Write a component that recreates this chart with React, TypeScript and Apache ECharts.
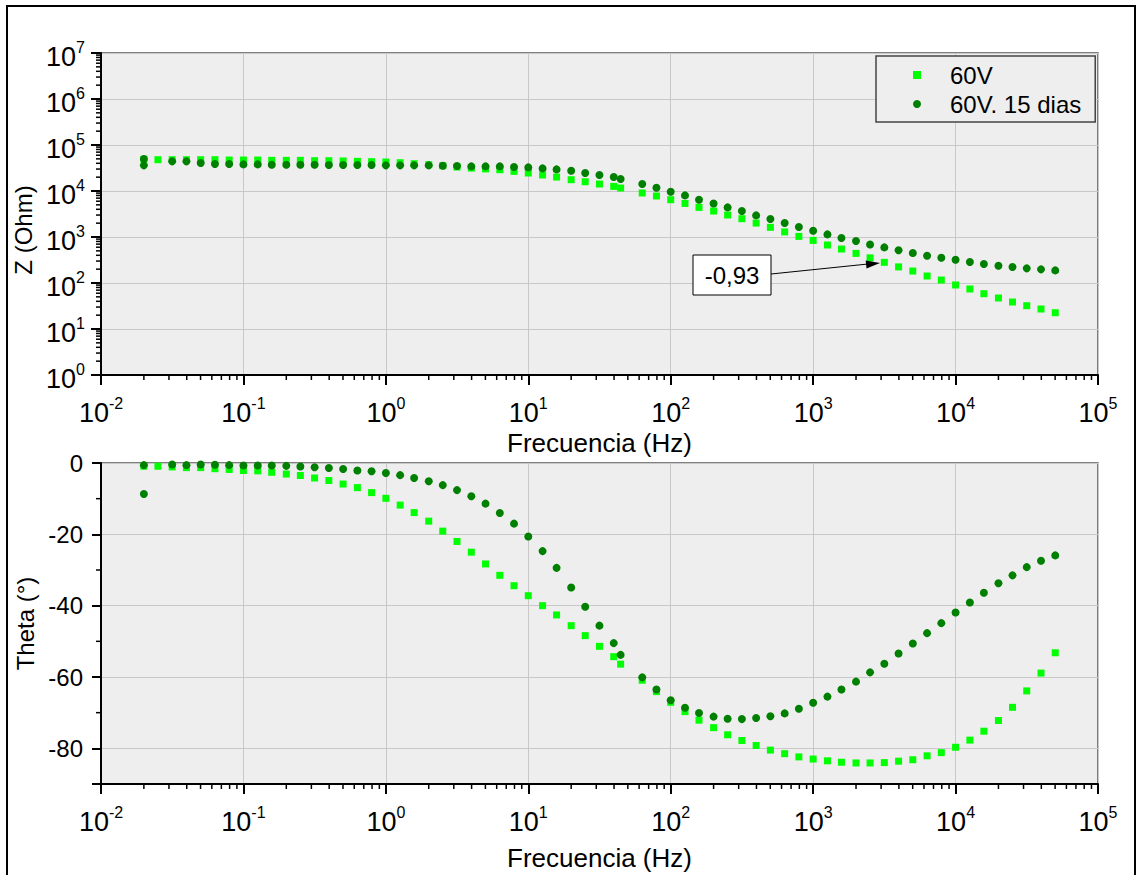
import React, { useEffect, useRef } from "react";
import * as echarts from "echarts";

const FONT = '"Liberation Sans", Arial, Helvetica, sans-serif';

// Frequencies (Hz)
const freq60V = [0.02, 0.0251, 0.0316, 0.0398, 0.0501, 0.0631, 0.0794, 0.1, 0.126, 0.158, 0.2, 0.251, 0.316, 0.398, 0.501, 0.631, 0.794, 1, 1.26, 1.58, 2, 2.51, 3.16, 3.98, 5.01, 6.31, 7.94, 10, 12.6, 15.8, 20, 25.1, 31.6, 39.8, 44.5, 63.1, 79.4, 100, 126, 158, 200, 251, 316, 398, 501, 631, 794, 1000, 1260, 1580, 2000, 2510, 3160, 3980, 5010, 6310, 7940, 10000, 12600, 15800, 20000, 25100, 31600, 39800, 50100];
const freq15d = [0.02, 0.02, 0.0316, 0.0398, 0.0501, 0.0631, 0.0794, 0.1, 0.126, 0.158, 0.2, 0.251, 0.316, 0.398, 0.501, 0.631, 0.794, 1, 1.26, 1.58, 2, 2.51, 3.16, 3.98, 5.01, 6.31, 7.94, 10, 12.6, 15.8, 20, 25.1, 31.6, 39.8, 44.5, 63.1, 79.4, 100, 126, 158, 200, 251, 316, 398, 501, 631, 794, 1000, 1260, 1580, 2000, 2510, 3160, 3980, 5010, 6310, 7940, 10000, 12600, 15800, 20000, 25100, 31600, 39800, 50100];

// |Z| (Ohm)
const z60V = [49000, 47900, 47900, 47900, 47900, 47900, 47100, 47100, 47100, 46400, 46400, 46400, 45600, 45600, 44900, 44100, 43400, 42700, 41200, 39200, 37300, 35500, 33200, 31500, 30200, 29000, 26700, 24600, 22300, 20100, 17600, 15900, 14200, 12600, 11600, 9060, 7780, 6470, 5370, 4400, 3670, 3010, 2500, 2010, 1620, 1290, 1030, 844, 670, 548, 440, 352, 281, 224, 182, 142, 116, 90.6, 74.1, 58.5, 47.2, 38.6, 32.1, 27.2, 22.6];
const z15d = [49600, 36100, 44100, 44100, 40600, 38600, 38600, 37900, 37900, 37300, 37300, 37300, 37300, 36700, 36700, 36700, 36700, 36100, 36100, 36100, 36100, 35500, 34900, 34300, 34300, 34300, 33300, 32600, 31000, 29500, 27600, 24600, 22300, 20100, 18200, 14200, 11800, 9660, 8020, 6470, 5370, 4400, 3670, 2950, 2460, 2010, 1650, 1370, 1140, 951, 818, 685, 594, 517, 449, 392, 355, 321, 286, 259, 238, 223, 208, 198, 188];

// Phase (degrees)
const theta60V = [-0.9, -0.9, -1.1, -1.3, -1.3, -1.6, -1.8, -2.1, -2.2, -2.6, -3.1, -3.5, -4.2, -4.9, -5.9, -6.9, -8.3, -9.9, -11.8, -13.9, -16.3, -19.1, -22.0, -25.0, -28.3, -31.5, -34.4, -37.2, -40.0, -42.6, -45.6, -48.4, -51.4, -54.3, -56.4, -60.9, -64.1, -67.1, -69.7, -72.1, -74.2, -76.2, -77.8, -79.2, -80.5, -81.5, -82.4, -83.0, -83.5, -83.9, -84.1, -84.1, -84.0, -83.6, -83.2, -82.1, -81.2, -79.7, -77.7, -75.2, -72.2, -68.5, -63.9, -58.9, -53.2];
const theta15d = [-0.6, -8.7, -0.4, -0.6, -0.4, -0.5, -0.6, -0.7, -0.7, -0.7, -0.8, -1.0, -1.2, -1.4, -1.7, -2.1, -2.3, -2.8, -3.4, -4.2, -5.1, -6.2, -7.6, -9.3, -11.4, -14.0, -17.0, -20.6, -24.7, -29.4, -34.9, -40.3, -45.6, -50.5, -53.8, -60.1, -63.5, -66.5, -68.6, -70.1, -71.1, -71.7, -71.8, -71.5, -71.0, -70.2, -68.9, -67.2, -65.5, -63.5, -61.3, -58.7, -56.3, -53.4, -50.6, -47.7, -44.9, -41.9, -39.1, -36.4, -33.7, -31.5, -29.2, -27.4, -25.9];

const seriesNames = ["60V", "60V. 15 dias"];
const annotationText = "-0,93";

// minor tick values
const decadesX = [0.01, 0.1, 1, 10, 100, 1000, 10000];
const decadesZ = [1, 10, 100, 1000, 10000, 100000, 1000000];
const mult = [2, 3, 4, 5, 6, 7, 8, 9];
const minorX = decadesX.flatMap((d) => mult.map((m) => m * d));
const minorZ = decadesZ.flatMap((d) => mult.map((m) => m * d));
const minorTheta = [-10, -30, -50, -70];

const pair = (xs: number[], ys: number[]) => xs.map((x, i) => [x, ys[i]]);

const rich = {
  b: { fontSize: 27, lineHeight: 36, fontFamily: FONT, color: "#000" },
  s: { fontSize: 16, lineHeight: 14, verticalAlign: "top", fontFamily: FONT, color: "#000" },
};
const powLabel = (v: number) => `{b|10}{s|${Math.round(Math.log10(v))}}`;

const axisLine = { show: true, onZero: false, lineStyle: { color: "#000", width: 2 } };
const axisTick = { show: true, inside: false, length: 10, lineStyle: { color: "#000", width: 2 } };
const splitLine = { show: true, lineStyle: { color: "#c8c8c8", width: 1 } };
const nameStyle = { fontSize: 26, fontFamily: FONT, color: "#000" };

function minorTicks(gridIdx: number, dir: "x" | "y", data: number[][], len: number) {
  return {
    type: "custom",
    xAxisIndex: gridIdx,
    yAxisIndex: gridIdx,
    silent: true,
    clip: false,
    z: 5,
    data,
    renderItem: (_p: any, api: any) => {
      const pt = api.coord([api.value(0), api.value(1)]);
      const shape =
        dir === "x"
          ? { x1: pt[0], y1: pt[1], x2: pt[0], y2: pt[1] + len }
          : { x1: pt[0] - len, y1: pt[1], x2: pt[0], y2: pt[1] };
      return { type: "line", shape, style: { stroke: "#000", lineWidth: 1.5 } };
    },
  };
}

export default function App() {
  const ref = useRef<HTMLDivElement>(null);
  useEffect(() => {
    if (!ref.current) return;
    const chart = echarts.init(ref.current, undefined, { renderer: "svg" });
    const xAxisBase = (gridIndex: number, nameGap: number) => ({
      type: "log",
      logBase: 10,
      gridIndex,
      min: 0.01,
      max: 100000,
      splitNumber: 7,
      axisLine,
      axisTick,
      minorTick: { show: false },
      axisLabel: { formatter: powLabel, rich, margin: 20 },
      splitLine,
      name: "Frecuencia (Hz)",
      nameLocation: "middle",
      nameGap,
      nameTextStyle: nameStyle,
    });
    const option: any = {
      animation: false,
      backgroundColor: "#fff",
      textStyle: { fontFamily: FONT },
      grid: [
        { left: 101, top: 53, width: 997, height: 322, show: true, backgroundColor: "#eeeeee", borderColor: "#555", borderWidth: 1.5 },
        { left: 101, top: 463, width: 997, height: 321, show: true, backgroundColor: "#eeeeee", borderColor: "#555", borderWidth: 1.5 },
      ],
      xAxis: [xAxisBase(0, 55), xAxisBase(1, 61)],
      yAxis: [
        {
          type: "log",
          logBase: 10,
          gridIndex: 0,
          min: 1,
          max: 10000000,
          splitNumber: 7,
          axisLine,
          axisTick,
          axisLabel: { formatter: powLabel, rich, margin: 16, padding: [8, 0, 0, 0] },
          splitLine,
          name: "Z (Ohm)",
          nameLocation: "middle",
          nameGap: 60,
          nameTextStyle: { ...nameStyle, fontSize: 24, padding: [0, 32, 0, 0] },
        },
        {
          type: "value",
          gridIndex: 1,
          min: -90,
          max: 0,
          splitNumber: 5,
          axisLine,
          axisTick: { ...axisTick, length: 9 },
          axisLabel: {
            formatter: (v: number) => (v === -90 ? "" : String(v)),
            fontSize: 24,
            fontFamily: FONT,
            color: "#000",
            margin: 18,
          },
          splitLine,
          name: "Theta (°)",
          nameLocation: "middle",
          nameGap: 52,
          nameTextStyle: { ...nameStyle, fontSize: 24 },
        },
      ],
      legend: {
        orient: "vertical",
        left: 876,
        top: 56,
        itemWidth: 8,
        itemHeight: 8,
        itemGap: 5,
        padding: [7, 14, 6, 37],
        backgroundColor: "#eeeeee",
        borderColor: "#444",
        borderWidth: 1.5,
        borderRadius: 0,
        textStyle: { fontSize: 24, fontFamily: FONT, color: "#000", padding: [0, 0, 0, 24] },
        data: [
          { name: seriesNames[0], icon: "rect", itemStyle: { color: "#00ff00", opacity: 1 } },
          { name: seriesNames[1], icon: "circle", itemStyle: { color: "#008000", opacity: 1 } },
        ],
      },
      series: [
        { name: seriesNames[0], type: "scatter", xAxisIndex: 0, yAxisIndex: 0, symbol: "rect", symbolSize: 7, itemStyle: { color: "#00ff00", opacity: 1 }, data: pair(freq60V, z60V), z: 3 },
        { name: seriesNames[1], type: "scatter", xAxisIndex: 0, yAxisIndex: 0, symbol: "circle", symbolSize: 8, itemStyle: { color: "#008000", opacity: 1 }, data: pair(freq15d, z15d), z: 4 },
        { name: seriesNames[0], type: "scatter", xAxisIndex: 1, yAxisIndex: 1, symbol: "rect", symbolSize: 7, itemStyle: { color: "#00ff00", opacity: 1 }, data: pair(freq60V, theta60V), z: 3 },
        { name: seriesNames[1], type: "scatter", xAxisIndex: 1, yAxisIndex: 1, symbol: "circle", symbolSize: 8, itemStyle: { color: "#008000", opacity: 1 }, data: pair(freq15d, theta15d), z: 4 },
        minorTicks(0, "x", minorX.map((v) => [v, 1]), 5),
        minorTicks(0, "y", minorZ.map((v) => [0.01, v]), 5),
        minorTicks(1, "x", minorX.map((v) => [v, -90]), 5),
        minorTicks(1, "y", minorTheta.map((v) => [0.01, v]), 5),
      ],
      graphic: [
        { type: "rect", z: 100, shape: { x: 7, y: 6, width: 1128, height: 900 }, style: { fill: "none", stroke: "#000", lineWidth: 2 }, silent: true },
        { type: "rect", z: 100, shape: { x: 693, y: 255, width: 78, height: 40 }, style: { fill: "#fff", stroke: "#000", lineWidth: 1 } },
        { type: "text", z: 101, x: 732, y: 275, style: { text: annotationText, fontSize: 24, fontFamily: FONT, fill: "#000", align: "center", verticalAlign: "middle" } },
        { type: "line", z: 100, shape: { x1: 771, y1: 274, x2: 868, y2: 264 }, style: { stroke: "#000", lineWidth: 1 } },
        { type: "polygon", z: 100, shape: { points: [[880, 263], [866.5, 268.4], [865.7, 260.4]] }, style: { fill: "#000" } },
      ],
    };
    chart.setOption(option);
    return () => chart.dispose();
  }, []);
  return <div ref={ref} style={{ position: "absolute", left: 0, top: 0, width: 1136, height: 875 }} />;
}
